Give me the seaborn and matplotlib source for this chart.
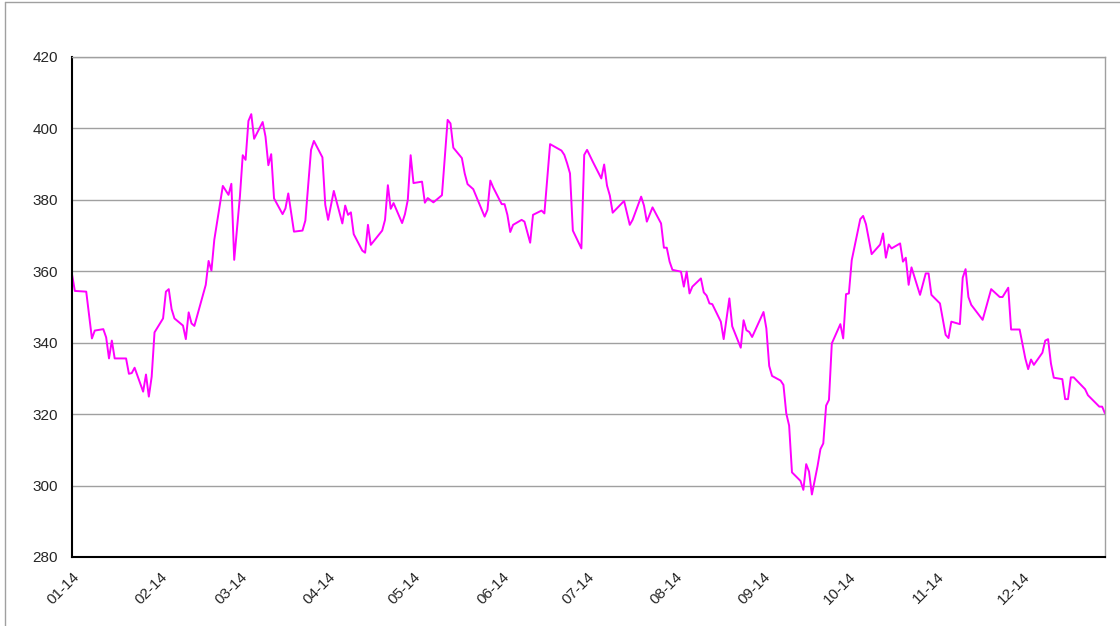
import pandas as pd
import seaborn as sns
import matplotlib.pyplot as plt
import matplotlib.dates as mdates

# days after 2014-01-01 and closing value
day_offset = [
    0, 1, 5, 7, 8, 11, 12, 13, 14, 15, 19, 20, 21, 22, 25, 26, 27, 28, 29,
    32, 33, 34, 35, 36, 39, 40, 41, 42, 43, 47, 48, 49, 50, 53, 55, 56, 57,
    59, 60, 61, 62, 63, 64, 67, 68, 69, 70, 71, 74, 75, 76, 78, 81, 82, 84,
    85, 88, 89, 90, 92, 95, 96, 97, 98, 99, 102, 103, 104, 105, 109, 110,
    111, 112, 113, 116, 117, 118, 119, 120, 123, 124, 125, 127, 130, 132,
    133, 134, 137, 138, 139, 141, 145, 146, 147, 148, 151, 152, 153, 154,
    155, 158, 159, 161, 162, 165, 166, 168, 172, 173, 174, 175, 176, 179,
    180, 181, 183, 186, 187, 188, 189, 190, 194, 196, 197, 200, 201, 202,
    204, 207, 208, 209, 210, 211, 214, 215, 216, 217, 218, 221, 222, 223,
    224, 225, 228, 229, 231, 232, 235, 236, 237, 238, 239, 243, 244, 245,
    246, 249, 250, 251, 252, 253, 256, 257, 258, 259, 260, 262, 263, 264,
    265, 266, 267, 270, 271, 272, 273, 274, 277, 278, 279, 281, 284, 285,
    286, 287, 288, 291, 292, 293, 294, 295, 298, 300, 301, 302, 305, 307,
    308, 309, 312, 313, 314, 315, 316, 320, 323, 326, 327, 329, 330, 333,
    335, 336, 337, 338, 341, 342, 343, 344, 345, 348, 349, 350, 351, 352,
    356, 357, 361, 362, 363,
]
price = [
    359.2, 354.5, 354.3, 341.2, 343.4, 343.8, 341.5, 335.6, 340.6, 335.6,
    335.6, 331.3, 331.5, 333.0, 326.3, 331.1, 324.9, 330.5, 342.9,
    346.8, 354.3, 355.0, 349.4, 346.8, 344.8, 341.0, 348.5, 345.4, 344.7,
    356.2, 362.9, 360.2, 368.8, 383.9, 381.4, 384.5, 363.2,
    380.9, 392.5, 391.2, 402.1, 404.0, 397.1, 401.8, 397.7, 389.7, 392.8,
    380.4, 376.0, 377.6, 381.8, 371.1, 371.4, 374.2, 394.0,
    396.5, 391.9, 378.6, 374.4, 382.5, 373.4, 378.4, 375.8, 376.5, 370.4,
    365.8, 365.2, 373.0, 367.4, 371.4, 374.4,
    384.1, 377.5, 379.1, 373.5, 376.0, 380.0, 392.5, 384.7, 385.1, 379.2,
    380.5, 379.3, 381.3, 402.4,
    401.4, 394.6, 391.7, 387.4, 384.4, 383.0, 375.3, 377.2, 385.4, 383.5,
    378.8, 378.8, 375.8, 371.0,
    373.0, 374.4, 373.9, 368.0, 375.8, 377.0, 376.2, 395.6, 393.8, 392.6,
    390.2, 387.4, 371.4, 366.4,
    392.6, 394.0, 390.7, 386.0, 389.9, 384.0, 381.2, 376.4, 379.7, 373.0,
    374.4, 380.9, 378.4, 373.9,
    377.9, 373.4, 366.6, 366.6, 362.7, 360.4, 359.9, 355.7, 359.9, 353.8,
    355.7, 358.0, 354.1, 353.2,
    351.0, 350.8, 345.9, 341.0, 352.4, 344.6, 338.6, 346.3, 343.5, 343.0,
    341.6, 348.6, 344.0, 333.5,
    330.7, 329.4, 328.2, 320.2, 316.8, 303.7, 301.3, 298.8, 306.0, 303.9,
    297.5, 305.5, 310.2, 311.8,
    322.4, 324.0, 339.8, 345.2, 341.2, 353.6, 353.8, 363.1, 374.6, 375.5,
    373.2, 364.8, 367.5, 370.6,
    363.8, 367.5, 366.4, 367.8, 362.7, 363.8, 356.2, 361.1, 353.4, 359.4,
    359.4, 353.4, 351.0, 342.2,
    341.3, 345.9, 345.2, 358.2, 360.6, 352.8, 350.6, 346.4, 355.0, 352.8,
    352.8, 355.4, 343.7, 343.7,
    335.6, 332.6, 335.3, 333.8, 337.2, 340.6, 341.0, 334.2, 330.2, 329.8,
    324.2, 324.2, 330.3, 330.3,
    327.0, 325.3, 322.1, 322.1, 320.2,
]

df = pd.DataFrame({
    'date': pd.Timestamp('2014-01-01') + pd.to_timedelta(day_offset, unit='D'),
    'price': price,
})

sns.set_style('white')
plt.rcParams['font.family'] = ['Liberation Sans', 'DejaVu Sans']

fig = plt.figure(figsize=(11.2, 6.26), dpi=100)
ax = fig.add_axes([72 / 1120, 69 / 626, 1033 / 1120, 500 / 626])

sns.lineplot(data=df, x='date', y='price', ax=ax, color='#FF00FF',
             linewidth=1.4)

ax.set_ylim(280, 420)
ax.set_yticks(range(280, 421, 20))
ax.set_xlim(df['date'].iloc[0], df['date'].iloc[-1])
ax.xaxis.set_major_locator(mdates.MonthLocator())
ax.xaxis.set_major_formatter(mdates.DateFormatter('%m-%y'))
ax.set_xlabel('')
ax.set_ylabel('')

ax.yaxis.grid(True, color='#a0a0a0', linewidth=1)
ax.xaxis.grid(False)
ax.set_axisbelow(True)

for side in ['top', 'right']:
    ax.spines[side].set_color('#a0a0a0')
    ax.spines[side].set_linewidth(1)
for side in ['left', 'bottom']:
    ax.spines[side].set_color('black')
    ax.spines[side].set_linewidth(1.5)

ax.tick_params(axis='y', direction='out', length=4, width=1, color='black',
               labelsize=11, pad=6)
ax.tick_params(axis='x', direction='out', length=4, width=1, color='#a0a0a0',
               labelsize=11, pad=5)
plt.setp(ax.get_xticklabels(), rotation=45, ha='right', rotation_mode='anchor')

# thin grey frame around the chart area
fig.add_artist(plt.Line2D([5 / 1120, 5 / 1120], [0, 1 - 1.5 / 626],
                          color='#a0a0a0', linewidth=1))
fig.add_artist(plt.Line2D([5 / 1120, 1], [1 - 1.5 / 626, 1 - 1.5 / 626],
                          color='#a0a0a0', linewidth=1))

fig.savefig('out.png', dpi=100)
